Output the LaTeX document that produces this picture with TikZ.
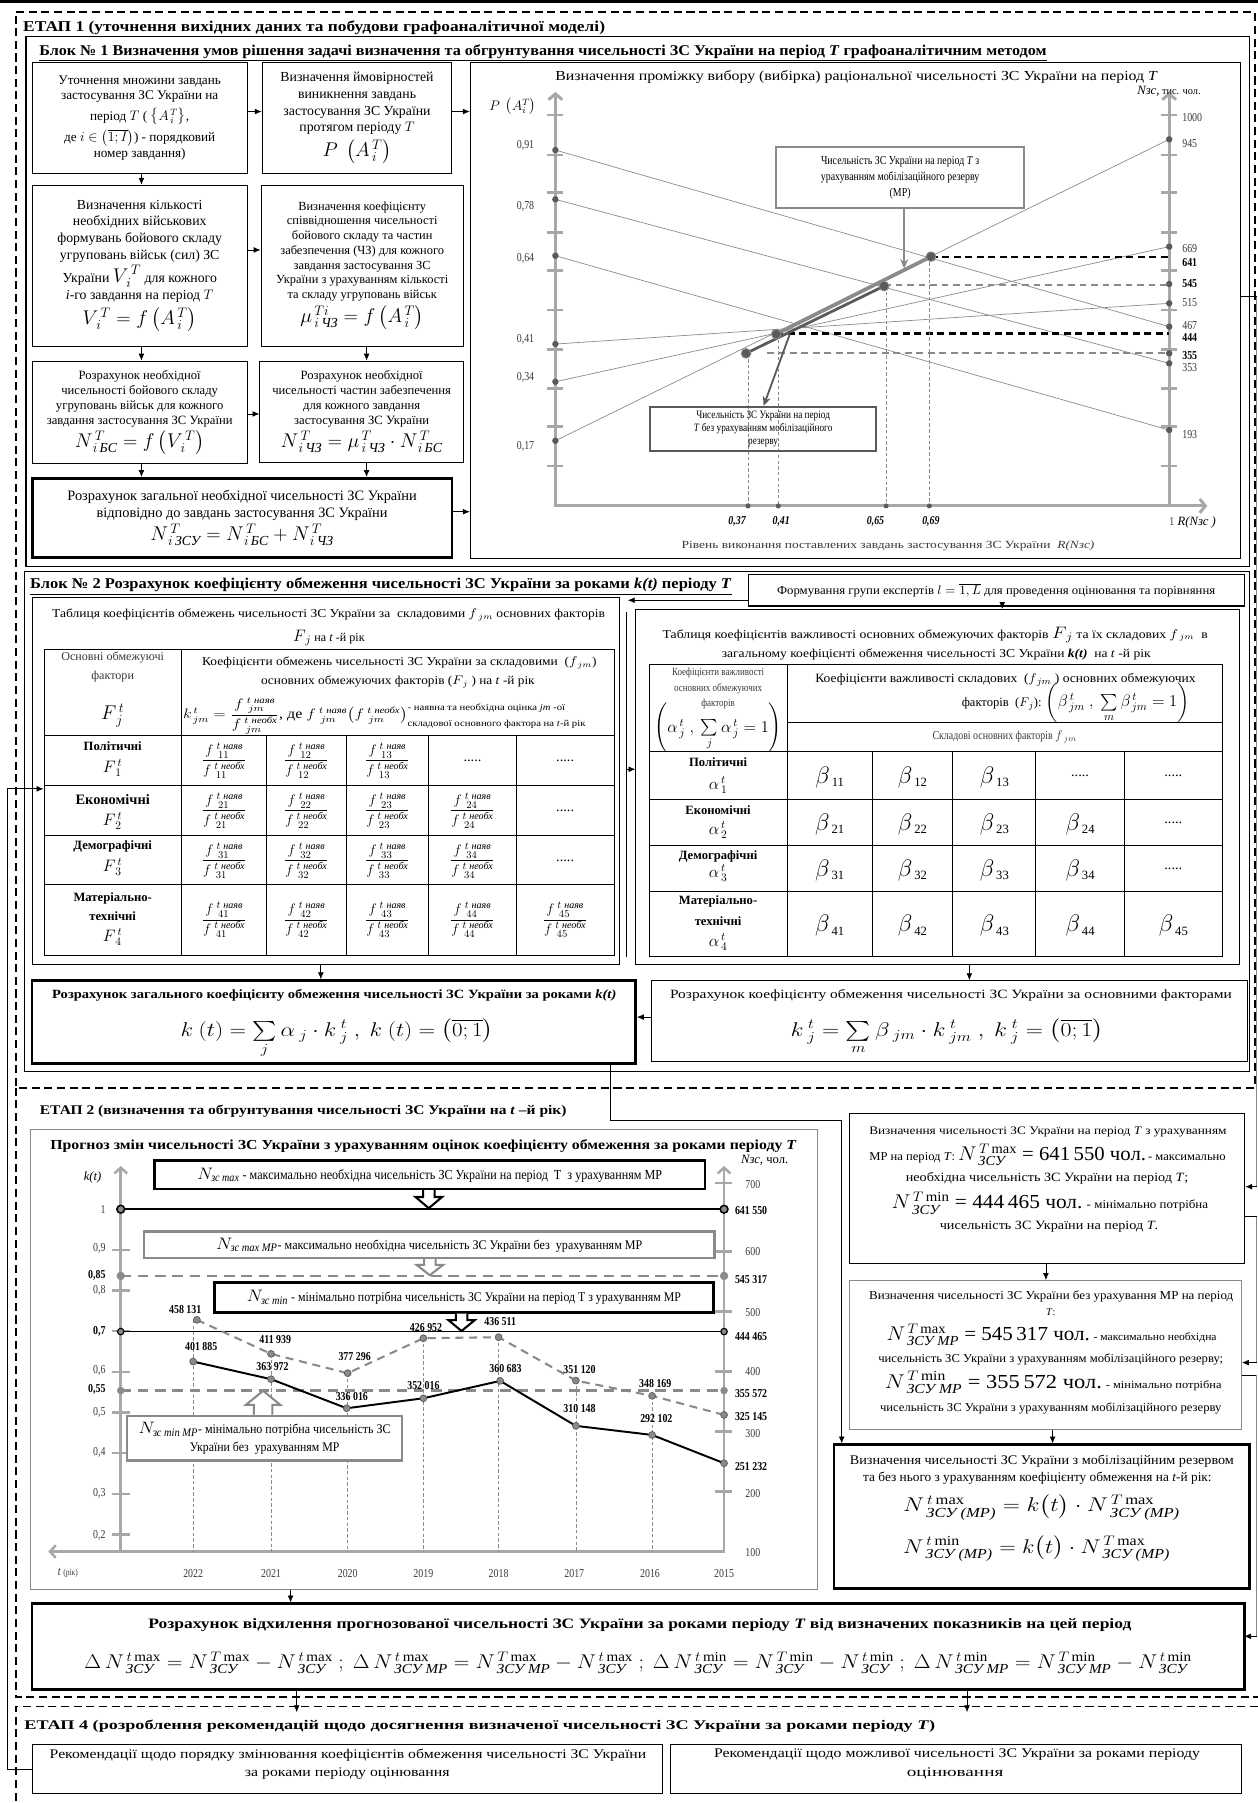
\documentclass[tikz,border=0pt]{standalone}
\usepackage{amsmath}
\usepackage{fontspec}
\setmainfont{Liberation Serif}
\newfontfamily\cond[FakeStretch=0.82]{Liberation Serif}
\usepackage{graphicx}
\usetikzlibrary{arrows.meta,calc}
\definecolor{axg}{HTML}{A8A8A8}
\definecolor{lng}{HTML}{8A8A8A}
\definecolor{dkg}{HTML}{5A5A5A}
\definecolor{txg}{HTML}{3A3A3A}
\newcommand{\fs}[2]{\fontsize{#1}{#2}\selectfont}
\newcommand{\fitto}[2]{\resizebox{#1pt}{\height}{#2}}
\newcommand{\ct}[1]{\text{\itshape #1}}
\newcommand{\ffr}[1]{$\dfrac{f^{\;t\;\ct{наяв}}_{\;\;#1}}{f^{\;t\;\ct{необх}}_{\;\;#1}}$}
\newcommand{\bet}[1]{{\huge$\beta$}\,\raisebox{-3pt}{\fs{11}{12}#1}}
\begin{document}
\begin{tikzpicture}[x=1pt,y=-1pt,
  lbl/.style={inner sep=0pt},
  boxn/.style={draw=black, line width=0.8pt, align=center, inner sep=1pt},
  boxb/.style={draw=black, line width=2.4pt, align=center, inner sep=1pt},
  arr/.style={-{Latex[length=6pt,width=5pt]}, line width=0.6pt},
  etapdash/.style={line width=1.7pt, dash pattern=on 7pt off 4pt},
  axl/.style={draw=axg, line width=2.6pt},
  thinl/.style={draw=lng, line width=0.6pt},
  numl/.style={inner sep=0pt, font=\cond\fs{10.5}{12}, text=txg},
  numb/.style={inner sep=0pt, font=\cond\bfseries\fs{10.5}{12}, text=black},
  rowl/.style={inner sep=0pt, font=\bfseries\fs{11}{13}},
  cell/.style={inner sep=0pt, font=\fs{12.5}{14}},
  ]
\useasboundingbox (0,0) rectangle (1094,1568);
\fill[white] (0,0) rectangle (1094,1568);
\fill[black] (0,0) rectangle (1094,2.5);
% ================= frames
\draw[etapdash] (14,10.5) -- (1091,10.5) -- (1091,946) -- (14,946) -- cycle;
\draw[etapdash,line width=1.3pt] (14,946) -- (14,1476) -- (1094,1476);
\draw[etapdash,line width=1.3pt] (1094,1484) -- (14,1484) -- (14,1568);
\draw[line width=0.9pt] (22.6,32) rectangle (1087,493);
\draw[line width=0.9pt] (21,497) rectangle (1087,932);
% ================= ETAP 1 titles
\node[lbl, anchor=west, font=\bfseries\fs{13}{15}] (t1) at (20,24) {\fitto{506}{ЕТАП 1 (уточнення вихідних даних та побудови графоаналітичної моделі)}};
\node[lbl, anchor=west, font=\bfseries\fs{13}{15}] (t2) at (34,46) {\fitto{876}{\underline{Блок № 1 Визначення умов рішення задачі визначення та обгрунтування чисельності ЗС України на період \textit{T} графоаналітичним методом}}};
% ================= Block 1 boxes
\node[boxn, minimum width=187, minimum height=97, font=\fs{11.5}{13.5}] (A) at (121.5,102.5) {Уточнення множини завдань\\ застосування ЗС України на\\[4pt] період $T$ ( {\large$\left\{A^{\,T}_{\,i}\right\}$},\\[3pt] де {\large$i\in\left(\overline{1;I}\right)$}) - порядковий\\ номер завдання)};
\node[boxn, minimum width=165, minimum height=97, font=\fs{12}{14.5}] (B) at (310.5,102.5) {Визначення ймовірностей\\ виникнення завдань\\ застосування ЗС України\\ протягом періоду $T$\\[3pt] {\LARGE$P\ \left(A^{\,T}_{\,i}\right)$}};
\node[boxn, minimum width=187, minimum height=140, font=\fs{12}{14.5}] (C) at (121.5,231) {Визначення кількості\\ необхідних військових\\ формувань бойового складу\\ угруповань військ (сил) ЗС\\[2pt] України {\LARGE$V^{\,T}_{\,i}$} для кожного\\[1pt] \textit{i}-го завдання на період $T$\\[3pt] {\LARGE$V^{\,T}_{\,i}=f\left(A^{\,T}_{\,i}\right)$}};
\node[boxn, minimum width=176, minimum height=140, font=\fs{10.8}{12.8}] (D) at (315,231) {Визначення коефіцієнту\\ співвідношення чисельності\\ бойового складу та частин\\ забезпечення (ЧЗ) для кожного\\ завдання застосування ЗС\\ України з урахуванням кількості\\ та складу угруповань військ\\[3pt] {\LARGE$\mu^{\,Ti}_{\,i\,\ct{ЧЗ}}=f\left(A^{\,T}_{\,i}\right)$}};
\node[boxn, minimum width=187, minimum height=89, font=\fs{11}{13}] (E) at (121.5,358.5) {Розрахунок необхідної\\ чисельності бойового складу\\ угруповань військ для кожного\\ завдання застосування ЗС України\\[2pt] {\LARGE$N^{\,T}_{\,i\,\ct{БС}}= f\left(V^{\,T}_{\,i}\right)$}};
\node[boxn, minimum width=177, minimum height=88, font=\fs{11}{13}] (F) at (314.5,358) {Розрахунок необхідної\\ чисельності частин забезпечення\\ для кожного завдання\\ застосування ЗС України\\[2pt] {\LARGE$N^{\,T}_{\,i\,\ct{ЧЗ}}=\mu^{\,T}_{\,i\,\ct{ЧЗ}}\cdot N^{\,T}_{\,i\,\ct{БС}}$}};
\node[boxb, minimum width=365, minimum height=69, font=\fs{12.5}{15}] (G) at (210.5,450.5) {Розрахунок загальної необхідної чисельності ЗС України\\ відповідно до завдань застосування ЗС України\\[2pt] {\LARGE$N^{\,T}_{\,i\,\ct{ЗСУ}}=N^{\,T}_{\,i\,\ct{БС}}+N^{\,T}_{\,i\,\ct{ЧЗ}}$}};
\node[draw=black, line width=0.9pt, minimum width=670, minimum height=432, inner sep=0pt] (chart) at (744,270) {};
% Block 1 arrows
\draw[arr] (A.east |- 0,97) -- (B.west |- 0,97);
\draw[arr] (B.east |- 0,97) -- (chart.west |- 0,97);
\draw[arr] (A.south -| 123,0) -- (C.north -| 123,0);
\draw[arr] (C.east |- 0,217.4) -- (D.west |- 0,217.4);
\draw[arr] (C.south -| 123,0) -- (E.north -| 123,0);
\draw[arr] (D.south -| 318.8,0) -- (F.north -| 318.8,0);
\draw[arr] (E.east |- 0,360) -- (F.west |- 0,360);
\draw[arr] (E.south -| 123,0) -- (G.north -| 123,0);
\draw[arr] (F.south -| 318.8,0) -- (G.north -| 318.8,0);
\draw[arr] (G.east |- 0,445) -- (chart.west |- 0,445);
% ================= Chart 1
\node[lbl, font=\fs{12}{13}] (ch1t) at (745,66.7) {\fitto{524}{Визначення проміжку вибору (вибірка) раціональної чисельності ЗС України на період \textit{T}}};
\draw[axl, -{Straight Barb[length=5pt,width=12pt]}] (483,441.3) -- (483,80);
\draw[axl, -{Straight Barb[length=5pt,width=12pt]}] (1016.8,441.3) -- (1016.8,80);
\draw[axl, -{Straight Barb[length=5pt,width=12pt]}] (481.7,440) -- (1050,440);
\foreach \y in {100.0,134.8,167.6,202.4,235.4,269.6,303.8,337.7,371.1,405.3} {
  \draw[axg, line width=2.2pt] (476,\y) -- (490,\y);
  \draw[axg, line width=2.2pt] (1009.8,\y) -- (1023.8,\y);
}
\draw[thinl] (483,130.5) -- (1016.8,284.1);
\draw[thinl] (483,173.4) -- (1016.8,316);
\draw[thinl] (483,222.4) -- (1016.8,374);
\draw[thinl] (483,299.2) -- (1016.8,263.8);
\draw[thinl] (483,332) -- (1016.8,214.5);
\draw[thinl] (483,383.3) -- (1016.8,121.2);
\foreach \y in {130.5,173.4,222.4,299.2,332,383.3} \fill[dkg] (483,\y) circle[radius=2.8pt];
\foreach \y in {121.2,214.5,247,263.8,284.1,307.3,316,374} \fill[dkg] (1016.8,\y) circle[radius=2.8pt];
% dashed level lines
\draw[black, line width=1.8pt, dash pattern=on 6pt off 4pt] (809.6,223.2) -- (1016.8,223.2);
\draw[lng, line width=1.8pt, dash pattern=on 6pt off 4pt] (768.8,247.5) -- (1016.8,247.5);
\draw[black, line width=1.8pt, dash pattern=on 6pt off 4pt] (675.1,290) -- (1016.8,290);
\draw[lng, line width=1.8pt, dash pattern=on 6pt off 4pt] (667,306.8) -- (1016.8,306.8);
\foreach \x/\y in {650.5/307.3,676.8/290.5,770.6/248.8,808.2/223.2} {
  \draw[lng, line width=0.5pt, dash pattern=on 3pt off 2pt] (\x,\y) -- (\x,440);
  \fill[dkg] (\x,440) circle[radius=2.2pt];
}
% thick segments
\draw[lng, line width=3.2pt] (675.1,290.5) -- (809.6,223.2);
\draw[dkg, line width=2.4pt] (648.8,307.3) -- (768.8,248.8);
\foreach \x/\y in {809.6/223.2,768.8/248.8,675.1/290.5,648.8/307.3} \filldraw[fill=dkg, draw=lng, line width=0.8pt] (\x,\y) circle[radius=4.2pt];
% callouts chart 1
\node[draw=lng, line width=1.6pt, minimum width=215.6, minimum height=53, inner sep=0pt, align=center, font=\cond\fs{10.5}{14}] (mpb) at (782.8,154.7) {Чисельність ЗС України на період \textit{T} з\\ урахуванням мобілізаційного резерву\\ (МР)};
\node[draw=dkg, line width=1.6pt, minimum width=196.3, minimum height=38.3, inner sep=0pt, align=center, font=\cond\fs{9.8}{11.2}] (nmpb) at (663.65,372.85) {Чисельність ЗС України на період\\ \textit{T} без урахуванням мобілізаційного\\ резерву};
\coordinate (mpt) at (786.3,233.4);
\coordinate (nmps) at (686.9,290.5);
\draw[lng, line width=1.6pt, -{Stealth[length=8pt,width=7pt]}] (mpb.south -| mpt) -- (mpt);
\draw[dkg, line width=1.6pt, -{Stealth[length=8pt,width=7pt]}] (nmps) -- (nmpb.north -| 664.1,0);
% chart1 labels
\node[lbl, font=\fs{12}{13}] (pa) at (446,92.8) {$P\ \left(A^{T}_{i}\right)$};
\node[lbl, anchor=west, font=\fs{9}{11}] (nzs1) at (989,79.7) {\textit{\fs{11}{12}Nзс,} тис. чол.};
\node[numl] (l091) at (457,126.1) {0,91};
\node[numl] (l078) at (457,179.2) {0,78};
\node[numl] (l064) at (457,224.7) {0,64};
\node[numl] (l041) at (457,295.1) {0,41};
\node[numl] (l034) at (457,328.2) {0,34};
\node[numl] (l017) at (457,388.5) {0,17};
\node[numl, anchor=west] (r1000) at (1028,102.1) {1000};
\node[numl, anchor=west] (r945) at (1028,124.7) {945};
\node[numl, anchor=west] (r669) at (1028,216) {669};
\node[numb, anchor=west] (r641) at (1028,228.2) {641};
\node[numb, anchor=west] (r545) at (1028,247) {545};
\node[numl, anchor=west] (r515) at (1028,263) {515};
\node[numl, anchor=west] (r467) at (1028,282.7) {467};
\node[numb, anchor=west] (r444) at (1028,293.7) {444};
\node[numb, anchor=west] (r355) at (1028,309.6) {355};
\node[numl, anchor=west] (r353) at (1028,319.5) {353};
\node[numl, anchor=west] (r193) at (1028,378.3) {193};
\node[numb, font=\cond\bfseries\itshape\fs{10.5}{12}] (x037) at (641,453.7) {0,37};
\node[numb, font=\cond\bfseries\itshape\fs{10.5}{12}] (x041) at (679.4,453.7) {0,41};
\node[numb, font=\cond\bfseries\itshape\fs{10.5}{12}] (x065) at (761.4,453.7) {0,65};
\node[numb, font=\cond\bfseries\itshape\fs{10.5}{12}] (x069) at (809.6,453.7) {0,69};
\node[numl] (x1) at (1019,453.7) {1};
\node[lbl, anchor=west, font=\itshape\fs{11}{12}] (xr) at (1024,454.5) {R(Nзс )};
\node[lbl, font=\fs{9.5}{11}, text=txg] (xlab) at (772.3,474.6) {\fitto{359}{Рівень виконання поставлених завдань застосування ЗС України \ \textit{R(Nзс)}}};
% ================= Block 2
\node[lbl, anchor=west, font=\bfseries\fs{13}{15}] (t3) at (26,510) {\fitto{610}{\underline{Блок № 2 Розрахунок коефіцієнту обмеження чисельності ЗС України за роками \textit{k(t)} періоду \textit{T}}}};
\node[draw=black, line width=0.9pt, minimum width=431.4, minimum height=27, inner sep=0pt] (exp) at (866.3,513.5) {\fitto{381}{\fs{10.5}{12}Формування групи експертів $l=\overline{1,L}$ для проведення оцінювання та порівняння}};
\node[draw=black, line width=0.8pt, minimum width=511, minimum height=318.5, inner sep=0pt] (lt) at (283.5,679.25) {};
\node[draw=black, line width=0.8pt, minimum width=525, minimum height=309, inner sep=0pt] (rt) at (815.5,684.5) {};
\coordinate (eL) at (546,522);
\draw[arr] (exp.west |- eL) -- (eL);
\coordinate (busT) at (545,532);
\coordinate (busB) at (545,832);
\draw[line width=0.6pt] (busT) -- (busB);
\draw[arr] (busT |- 0,669) -- (rt.west |- 0,669);
\draw[arr] (exp.south -| 871.6,0) -- (rt.north -| 871.6,0);
% left table
\node[lbl, font=\fs{10.5}{12}] (ltt1) at (285.7,535) {\fitto{480.7}{Таблиця коефіцієнтів обмежень чисельності ЗС України за \ складовими $f_{\;jm}$ основних факторів}};
\node[lbl, font=\fs{10.5}{12}] (ltt2) at (286,555) {{\Large$F_{\,j}$} на \textit{t} -й рік};
\node[draw=black, line width=0.9pt, minimum width=495.7, minimum height=266, inner sep=0pt] (ltin) at (286.15,698) {};
\draw[line width=0.9pt] (158,565) -- (158,831);
\foreach \y in {640,683.5,727,769.6} \draw[line width=0.9pt] (38.3,\y) -- (534,\y);
\foreach \x in {232,301,372.7,449} \draw[line width=0.9pt] (\x,640) -- (\x,831);
\node[lbl, align=center, font=\fs{10.5}{16}, text=txg] (lh1) at (98,580) {Основні обмежуючі\\ фактори};
\node[lbl] (lh1f) at (98,622) {\LARGE$F^{\,t}_{\,j}$};
\node[lbl, font=\fs{10.5}{12}] (lh2a) at (347.3,576.3) {\fitto{343}{Коефіцієнти обмежень чисельності ЗС України за складовими \ ($f_{\,jm}$)}};
\node[lbl, font=\fs{10.5}{12}] (lh2b) at (346,593) {\fitto{238}{основних обмежуючих факторів ($F_{\,j}$ ) на \textit{t} -й рік}};
\node[lbl] (lh2c) at (334.2,622.5) {\fitto{350}{\fs{12}{14}$k^{\,t}_{\,jm}=\dfrac{f^{\;t\;\ct{наяв}}_{\;\;jm}}{f^{\;t\;\ct{необх}}_{\;\;jm}}$, де $f^{\;t\;\ct{наяв}}_{\;\;jm}\bigl(f^{\;t\;\ct{необх}}_{\;\;jm}\bigr)$\begin{tabular}{@{}l@{}}\fs{8}{9}- наявна та необхідна оцінка \textit{jm} -ої\\ \fs{8}{9}складової основного фактора на \textit{t}-й рік\end{tabular}}};
\node[rowl] (lr1) at (98,649.3) {Політичні};
\node[lbl] (lr1f) at (98,668.1) {\Large$F^{\,t}_{\,1}$};
\node[rowl, font=\bfseries\fs{12.5}{14}] (lr2) at (98,695) {Економічні};
\node[lbl] (lr2f) at (98,713.6) {\Large$F^{\,t}_{\,2}$};
\node[rowl] (lr3) at (98,735.7) {Демографічні};
\node[lbl] (lr3f) at (98,753.6) {\Large$F^{\,t}_{\,3}$};
\node[rowl] (lr4a) at (98,781.2) {Матеріально-};
\node[rowl] (lr4b) at (98,797.1) {технічні};
\node[lbl] (lr4f) at (98,814.5) {\Large$F^{\,t}_{\,4}$};
\node[cell] (c11) at (195,661.8) {\ffr{11}};
\node[cell] (c12) at (266.5,661.8) {\ffr{12}};
\node[cell] (c13) at (336.9,661.8) {\ffr{13}};
\node[cell] (c14) at (410.9,661.8) {.....};
\node[cell] (c15) at (491.5,661.8) {.....};
\node[cell] (c21) at (195,705.3) {\ffr{21}};
\node[cell] (c22) at (266.5,705.3) {\ffr{22}};
\node[cell] (c23) at (336.9,705.3) {\ffr{23}};
\node[cell] (c24) at (410.9,705.3) {\ffr{24}};
\node[cell] (c25) at (491.5,705.3) {.....};
\node[cell] (c31) at (195,748.3) {\ffr{31}};
\node[cell] (c32) at (266.5,748.3) {\ffr{32}};
\node[cell] (c33) at (336.9,748.3) {\ffr{33}};
\node[cell] (c34) at (410.9,748.3) {\ffr{34}};
\node[cell] (c35) at (491.5,748.3) {.....};
\node[cell] (c41) at (195,800.3) {\ffr{41}};
\node[cell] (c42) at (266.5,800.3) {\ffr{42}};
\node[cell] (c43) at (336.9,800.3) {\ffr{43}};
\node[cell] (c44) at (410.9,800.3) {\ffr{44}};
\node[cell] (c45) at (491.5,800.3) {\ffr{45}};
% right table
\node[lbl, font=\fs{10.5}{12}] (rtt1) at (813.3,552) {\fitto{474}{Таблиця коефіцієнтів важливості основних обмежуючих факторів {\Large$F_{\,j}$} та їх складових $f_{\;jm}$ \ в}};
\node[lbl, font=\fs{10.5}{12}] (rtt2) at (814.2,569.6) {\fitto{373}{загальному коефіцієнті обмеження чисельності ЗС України \textbf{\textit{k(t)}} \ на \textit{t} -й рік}};
\node[draw=black, line width=0.9pt, minimum width=498.4, minimum height=253.7, inner sep=0pt] (rtin) at (813.8,705.15) {};
\draw[line width=0.9pt] (684.5,578.3) -- (684.5,832);
\draw[line width=0.9pt] (684.5,628.4) -- (1063,628.4);
\foreach \y in {653.6,695.6,735.7,775.4} \draw[line width=0.9pt] (564.6,\y) -- (1063,\y);
\foreach \x in {758.4,828.6,900.8,977.8} \draw[line width=0.9pt] (\x,653.6) -- (\x,832);
\node[lbl, align=center, font=\cond\fs{9.5}{13.5}, text=txg] (rh1) at (624.5,599) {Коефіцієнти важливості\\ основних обмежуючих\\ факторів};
\node[lbl] (rh1f) at (624.5,633) {\fitto{111}{\Large$\left(\alpha^{\,t}_{\,j}\ ,\ \sum\limits_{j}\alpha^{\,t}_{\,j}=1\right)$}};
\node[lbl, font=\fs{11}{12}] (rh2a) at (874.4,591.3) {\fitto{330.7}{Коефіцієнти важливості складових \ ($f_{\,jm}$ ) основних обмежуючих}};
\node[lbl, font=\fs{11}{12}] (rh2b) at (935.4,611) {\fitto{198}{факторів \ ($F_{\,j}$): {\Large$\left(\beta^{\,t}_{\,jm}\ ,\ \sum\limits_{m}\beta^{\,t}_{\,jm}=1\right)$}}};
\node[lbl, font=\cond\fs{10.5}{12}, text=txg] (rh3) at (873.8,641) {Складові основних факторів $f_{\;jm}$};
\node[rowl] (rr1) at (624.5,663.2) {Політичні};
\node[lbl] (rr1f) at (624.5,682.6) {\Large$\alpha^{\,t}_{\,1}$};
\node[rowl] (rr2) at (624.5,705) {Економічні};
\node[lbl] (rr2f) at (624.5,721.7) {\Large$\alpha^{\,t}_{\,2}$};
\node[rowl] (rr3) at (624.5,745) {Демографічні};
\node[lbl] (rr3f) at (624.5,759.4) {\Large$\alpha^{\,t}_{\,3}$};
\node[rowl] (rr4a) at (624.5,784) {Матеріально-};
\node[rowl] (rr4b) at (624.5,801.5) {технічні};
\node[lbl] (rr4f) at (624.5,818.8) {\Large$\alpha^{\,t}_{\,4}$};
\node[lbl] (b11) at (721.5,676) {\bet{11}};
\node[lbl] (b12) at (793.5,676) {\bet{12}};
\node[lbl] (b13) at (864.7,676) {\bet{13}};
\node[cell] (b14) at (939.3,674.6) {.....};
\node[cell] (b15) at (1020.4,674.6) {.....};
\node[lbl] (b21) at (721.5,717) {\bet{21}};
\node[lbl] (b22) at (793.5,717) {\bet{22}};
\node[lbl] (b23) at (864.7,717) {\bet{23}};
\node[lbl] (b24) at (939.3,717) {\bet{24}};
\node[cell] (b25) at (1020.4,715.7) {.....};
\node[lbl] (b31) at (721.5,757) {\bet{31}};
\node[lbl] (b32) at (793.5,757) {\bet{32}};
\node[lbl] (b33) at (864.7,757) {\bet{33}};
\node[lbl] (b34) at (939.3,757) {\bet{34}};
\node[cell] (b35) at (1020.4,755.6) {.....};
\node[lbl] (b41) at (721.5,805) {\bet{41}};
\node[lbl] (b42) at (793.5,805) {\bet{42}};
\node[lbl] (b43) at (864.7,805) {\bet{43}};
\node[lbl] (b44) at (939.3,805) {\bet{44}};
\node[lbl] (b45) at (1020.4,805) {\bet{45}};
% bottom of block 2
\node[boxb, minimum width=524.9, minimum height=71.8] (kt) at (290.25,888.7) {};
\node[boxn, minimum width=518.3, minimum height=70.2] (kj) at (825.85,887.9) {};
\node[lbl, font=\bfseries\fs{11}{13}] (ktt) at (290.7,865.2) {\fitto{490.6}{Розрахунок загального коефіцієнту обмеження чисельності ЗС України за роками \textit{k(t)}}};
\node[lbl, font=\fs{11}{13}] (kjt) at (827,865.2) {\fitto{488.6}{Розрахунок коефіцієнту обмеження чисельності ЗС України за основними факторами}};
\node[lbl, anchor=base] (ktf) at (293,901) {\fitto{272}{\LARGE$k\ (t)=\sum\limits_{j}\alpha_{\;j}\cdot k^{\;t}_{\;j}\ ,\ k\ (t)=\left(\overline{0;1}\right)$}};
\node[lbl, anchor=base] (kjf) at (823.5,901) {\fitto{272}{\LARGE$k^{\;t}_{\;j}=\sum\limits_{m}\beta_{\;jm}\cdot k^{\;t}_{\;jm}\ ,\ k^{\;t}_{\;j}=\left(\overline{0;1}\right)$}};
\draw[arr] (lt.south -| 279,0) -- (kt.north -| 279,0);
\draw[arr] (rt.south -| 843,0) -- (kj.north -| 843,0);
\draw[arr] (kj.west |- 0,884.5) -- (kt.east |- 0,884.5);
% ================= ETAP 2
\node[lbl, anchor=west, font=\bfseries\fs{11.5}{13}] (t4) at (34.5,966.7) {\fitto{458}{ЕТАП 2 (визначення та обгрунтування чисельності ЗС України на \textit{t} –й рік)}};
\node[draw=lng, line width=1pt, minimum width=684.3, minimum height=400.6, inner sep=0pt] (ch2) at (368.85,1182.3) {};
\node[lbl, font=\bfseries\fs{12}{13}] (ch2t) at (368.25,997) {\fitto{649}{Прогноз змін чисельності ЗС України з урахуванням оцінок коефіцієнту обмеження за роками періоду \textit{T}}};
\node[lbl, font=\itshape\fs{11}{12}] (kt2) at (80.5,1023.8) {k(t)};
\node[lbl, font=\fs{11}{12}] (nzs2) at (665,1008.7) {\textit{Nзс,} чол.};
\draw[axg, line width=2.2pt, -{Straight Barb[length=5pt,width=11pt]}] (105,1350.4) -- (105,1014);
\draw[axg, line width=2.2pt, -{Straight Barb[length=5pt,width=11pt]}] (629.7,1350.4) -- (629.7,1014);
\draw[axg, line width=2.2pt, -{Straight Barb[length=5pt,width=11pt]}] (630.8,1349.3) -- (42,1349.3);
\foreach \y in {1087,1122.3,1157.7,1193,1228.4,1263.7,1299,1334.4} \draw[axg, line width=2pt] (97,\y) -- (113,\y);
\foreach \y in {1029,1088.4,1140.6,1192.8,1245,1297.1} \draw[axg, line width=2pt] (622,\y) -- (637,\y);
% year verticals
\foreach \x/\y in {168/1147.8,235.7/1177.4,302.4/1194.2,368.2/1163.8,433.6/1162.9,500.8/1200.6,567.1/1213.9} \draw[lng, line width=0.5pt, dash pattern=on 3pt off 2pt] (\x,\y) -- (\x,1349.3);
% level lines
\draw[black, line width=2pt] (105,1051.6) -- (629.7,1051.6);
\draw[lng, line width=2.2pt, dash pattern=on 9pt off 6pt] (105,1109.6) -- (629.7,1109.6);
\draw[black, line width=1.6pt] (105,1158) -- (629.7,1158);
\draw[lng, line width=2.2pt, dash pattern=on 9pt off 6pt] (105,1209.3) -- (629.7,1209.3);
\foreach \x in {105,629.7} {
  \filldraw[fill=lng, draw=black, line width=1.3pt] (\x,1051.6) circle[radius=3.4pt];
  \filldraw[fill=lng, draw=lng] (\x,1109.6) circle[radius=3.4pt];
  \filldraw[fill=lng, draw=black, line width=1pt] (\x,1158) circle[radius=2.8pt];
  \filldraw[fill=lng, draw=lng] (\x,1209.3) circle[radius=3pt];
}
% series
\draw[lng, line width=1.8pt, dash pattern=on 7pt off 5pt] (171.2,1147.8) -- (235.7,1177.4) -- (302.4,1194.2) -- (368.2,1163.8) -- (433.6,1162.9) -- (500.8,1200.6) -- (567.1,1213.9) -- (629.7,1230.5);
\draw[black, line width=1.7pt] (168,1184.1) -- (235.7,1199.4) -- (301.5,1224.7) -- (368.2,1216) -- (435,1200.9) -- (500.8,1240) -- (567.1,1247.9) -- (629.7,1272.5);
\foreach \x/\y in {171.2/1147.8,235.7/1177.4,302.4/1194.2,368.2/1163.8,433.6/1162.9,500.8/1200.6,567.1/1213.9,629.7/1230.5,168/1184.1,235.7/1199.4,301.5/1224.7,368.2/1216,435/1200.9,500.8/1240,567.1/1247.9,629.7/1272.5} \filldraw[fill=lng, draw=dkg, line width=0.6pt] (\x,\y) circle[radius=3pt];
% labels chart 2
\node[numl, anchor=east] (k1) at (92,1051.6) {1};
\node[numl, anchor=east] (k09) at (92,1085.5) {0,9};
\node[numb, anchor=east] (k085) at (92,1109.6) {0,85};
\node[numl, anchor=east] (k08) at (92,1122.6) {0,8};
\node[numb, anchor=east] (k07) at (92,1158) {0,7};
\node[numl, anchor=east] (k06) at (92,1192.2) {0,6};
\node[numb, anchor=east] (k055) at (92,1208.7) {0,55};
\node[numl, anchor=east] (k05) at (92,1228.4) {0,5};
\node[numl, anchor=east] (k04) at (92,1263.2) {0,4};
\node[numl, anchor=east] (k03) at (92,1298.6) {0,3};
\node[numl, anchor=east] (k02) at (92,1335.7) {0,2};
\node[numl, anchor=west] (n700) at (648,1030.4) {700};
\node[numl, anchor=west] (n600) at (648,1088.4) {600};
\node[numl, anchor=west] (n500) at (648,1141.5) {500};
\node[numl, anchor=west] (n400) at (648,1192.8) {400};
\node[numl, anchor=west] (n300) at (648,1246.4) {300};
\node[numl, anchor=west] (n200) at (648,1298.6) {200};
\node[numl, anchor=west] (n100) at (648,1350.2) {100};
\node[numb, anchor=west] (v1) at (639,1052.7) {641 550};
\node[numb, anchor=west] (v2) at (639,1112.5) {545 317};
\node[numb, anchor=west] (v3) at (639,1162.3) {444 465};
\node[numb, anchor=west] (v4) at (639,1212.2) {355 572};
\node[numb, anchor=west] (v5) at (639,1231.9) {325 145};
\node[numb, anchor=west] (v6) at (639,1275.4) {251 232};
\node[numb] (s1) at (175,1171) {401 885};
\node[numb] (s2) at (237,1188.4) {363 972};
\node[numb] (s3) at (306,1214.5) {336 016};
\node[numb] (s4) at (368.2,1205.3) {352 016};
\node[numb] (s5) at (439.6,1189.9) {360 683};
\node[numb] (s6) at (504,1224.7) {310 148};
\node[numb] (s7) at (570.8,1233.4) {292 102};
\node[numb] (g1) at (161.1,1139.1) {458 131};
\node[numb] (g2) at (239.4,1165.2) {411 939};
\node[numb] (g3) at (308.4,1179.7) {377 296};
\node[numb] (g4) at (370.5,1154.2) {426 952};
\node[numb] (g5) at (435,1149.3) {436 511};
\node[numb] (g6) at (504,1190.7) {351 120};
\node[numb] (g7) at (569.9,1203) {348 169};
\foreach \x/\t [count=\i] in {168/2022,235.7/2021,302.4/2020,368.2/2019,433.6/2018,499.4/2017,565.3/2016,629.7/2015} \node[numl] (yr\i) at (\x,1368.2) {\t};
\node[numl] (tl) at (59,1368.2) {\textit{\fs{11}{12}t} {\fs{8}{9}(рік)}};
% callout boxes chart 2
\node[draw=black, line width=2.2pt, fill=white, minimum width=478.7, minimum height=24.9, inner sep=0pt, font=\cond\fs{12}{13}] (cb1) at (373.75,1021.75) {\fitto{404}{{\Large$N_{\ct{зс max}}$} - максимально необхідна чисельність ЗС України на період \ T \ з урахуванням МР}};
\node[draw=lng, line width=2.2pt, fill=white, minimum width=496.2, minimum height=23.2, inner sep=0pt, font=\cond\fs{11.5}{13}] (cb2) at (373.3,1082.6) {\fitto{370.6}{{\Large$N_{\ct{зс max МР}}$}- максимально необхідна чисельність ЗС України без \ урахуванням МР}};
\node[draw=black, line width=2.2pt, fill=white, minimum width=434.1, minimum height=26.1, inner sep=0pt, font=\cond\fs{11.5}{13}] (cb3) at (403.45,1128.45) {\fitto{377.5}{{\Large$N_{\ct{зс min}}$} - мінімально потрібна чисельність ЗС України на період T з урахуванням МР}};
\node[draw=lng, line width=2.2pt, fill=white, minimum width=239.3, minimum height=38.9, inner sep=0pt, align=center, font=\cond\fs{11.5}{15}] (cb4) at (230.15,1250.75) {\fitto{219}{{\Large$N_{\ct{зс min МР}}$}- мінімально потрібна чисельність ЗС}\\ \fitto{130}{України без \ урахуванням МР}};
\filldraw[fill=white, draw=black, line width=1.8pt] (367.9,1035) -- (367.9,1041) -- (361.4,1041) -- (372.9,1050.7) -- (384.4,1041) -- (377.9,1041) -- (377.9,1035);
\filldraw[fill=white, draw=lng, line width=1.8pt] (368.8,1095) -- (368.8,1100) -- (362.3,1100) -- (373.8,1109) -- (385.3,1100) -- (378.8,1100) -- (378.8,1095);
\filldraw[fill=white, draw=black, line width=1.8pt] (396.4,1142.5) -- (396.4,1148) -- (389.9,1148) -- (401.4,1157.5) -- (412.9,1148) -- (406.4,1148) -- (406.4,1142.5);
\filldraw[fill=white, draw=lng, line width=1.8pt] (220.8,1230.3) -- (220.8,1221.8) -- (213.8,1221.8) -- (228.8,1209.5) -- (243.8,1221.8) -- (236.8,1221.8) -- (236.8,1230.3);
% right boxes ETAP 2
\node[boxn, minimum width=343.5, minimum height=129.9] (R1) at (910.85,1033.65) {};
\node[draw=lng, line width=0.8pt, minimum width=340.6, minimum height=129.4, inner sep=0pt] (R2) at (909.4,1178.3) {};
\node[boxb, minimum width=361.2, minimum height=124.7] (R3) at (905.8,1318.85) {};
\node[lbl, font=\fs{10}{11}] (r1a) at (911.3,984) {\fitto{310.7}{Визначення чисельності ЗС України на період \textit{T} з урахуванням}};
\node[lbl, font=\fs{10.5}{11}] (r1b) at (911,1004.3) {\fitto{310}{МР на період \textit{T}: {\LARGE$N^{\,T\,\mathrm{max}}_{\;\ct{ЗСУ}}$ = 641\,550 чол.}\,- максимально}};
\node[lbl, font=\fs{11}{11}] (r1c) at (910.6,1024.6) {\fitto{245.6}{необхідна чисельність ЗС України на період \textit{T};}};
\node[lbl, font=\fs{10.5}{11}] (r1d) at (913,1046.4) {\fitto{275.4}{{\LARGE$N^{\,T\,\mathrm{min}}_{\;\ct{ЗСУ}}$ = 444\,465 чол.} - мінімально потрібна}};
\node[lbl, font=\fs{11}{11}] (r1e) at (912.3,1066.7) {\fitto{190}{чисельність ЗС України на період \textit{T}.}};
\node[lbl, font=\fs{10.5}{11}] (r2a) at (914.2,1127.5) {\fitto{316.6}{Визначення чисельності ЗС України без урахування МР на період}};
\node[lbl, font=\fs{9}{11}] (r2b) at (913.8,1141.5) {\textit{T}:};
\node[lbl, font=\fs{9.5}{11}] (r2c) at (914.5,1160.9) {\fitto{287}{{\LARGE$N^{\,T\,\mathrm{max}}_{\;\ct{ЗСУ МР}}$ = 545\,317 чол.} - максимально необхідна}};
\node[lbl, font=\fs{10.5}{11}] (r2d) at (913.8,1182) {\fitto{300}{чисельність ЗС України з урахуванням мобілізаційного резерву;}};
\node[lbl, font=\fs{9.5}{11}] (r2e) at (915.9,1202.3) {\fitto{292.8}{{\LARGE$N^{\,T\,\mathrm{min}}_{\;\ct{ЗСУ МР}}$ = 355\,572 чол.} - мінімально потрібна}};
\node[lbl, font=\fs{10.5}{11}] (r2f) at (913.8,1224.6) {\fitto{297}{чисельність ЗС України з урахуванням мобілізаційного резерву}};
\node[lbl, font=\fs{11.5}{12}] (r3a) at (906.1,1271) {\fitto{334}{Визначення чисельності ЗС України з мобілізаційним резервом}};
\node[lbl, font=\fs{11.5}{12}] (r3b) at (902.2,1285.5) {\fitto{303}{та без нього з урахуванням коефіцієнту обмеження на \textit{t}-й рік:}};
\node[lbl] (r3c) at (905.8,1311) {\fitto{240.6}{\LARGE$N^{\,t\,\mathrm{max}}_{\;\ct{ЗСУ (МР)}}=k\bigl(t\bigr)\cdot N^{\,T\,\mathrm{max}}_{\;\ct{ЗСУ (МР)}}$}};
\node[lbl] (r3d) at (901.5,1347) {\fitto{232}{\LARGE$N^{\,t\,\mathrm{min}}_{\;\ct{ЗСУ (МР)}}=k\bigl(t\bigr)\cdot N^{\,T\,\mathrm{max}}_{\;\ct{ЗСУ (МР)}}$}};
\draw[arr] (R1.south -| 909.6,0) -- (R2.north -| 909.6,0);
\draw[arr] (R2.south -| 915.4,0) -- (R3.north -| 915.4,0);
% connector from k(t) box to R3
\coordinate (kc) at (732,974);
\draw[arr] (kt.south -| 531,0) |- (kc) -- (kc |- R3.north);
% right bus
\coordinate (rb1) at (1093,258);
\coordinate (rb2) at (1093,1032);
\coordinate (rb3) at (1093,1058);
\coordinate (rb4) at (1093,1185);
\coordinate (rb5) at (1093,1196);
\coordinate (rb6) at (1093,1423);
\draw[line width=0.6pt] (chart.east |- rb1) -- (rb1);
\draw[lng, line width=0.6pt] (rb1) -- (rb2);
\draw[arr] (rb2) -- (rb2 -| R1.east);
\draw[line width=0.6pt] (R1.east |- rb3) -- (rb3);
\draw[lng, line width=0.6pt] (rb3) -- (rb4);
\draw[arr] (rb4) -- (rb4 -| R2.east);
\draw[line width=0.6pt] (R2.east |- rb5) -- (rb5);
\draw[lng, line width=0.6pt] (rb5) -- (rb6);
\draw[arr] (rb6) -- (rb6 -| 1082,0);
% deviation box
\node[boxb, minimum width=1054.1, minimum height=74.2] (dev) at (554.95,1431.9) {};
\node[lbl, font=\bfseries\fs{12.5}{14}] (devt) at (556.5,1413) {\fitto{855}{Розрахунок відхилення прогнозованої чисельності ЗС України за роками періоду \textit{T} від визначених показників на цей період}};
\node[lbl] (devf) at (554.9,1446) {\fitto{963}{\LARGE$\Delta\,N^{\,t\,\mathrm{max}}_{\;\ct{ЗСУ}}=N^{\,T\,\mathrm{max}}_{\;\ct{ЗСУ}}-N^{\,t\,\mathrm{max}}_{\;\ct{ЗСУ}}\ ;\ \Delta\,N^{\,t\,\mathrm{max}}_{\;\ct{ЗСУ МР}}=N^{\,T\,\mathrm{max}}_{\;\ct{ЗСУ МР}}-N^{\,t\,\mathrm{max}}_{\;\ct{ЗСУ}}\ ;\ \Delta\,N^{\,t\,\mathrm{min}}_{\;\ct{ЗСУ}}=N^{\,T\,\mathrm{min}}_{\;\ct{ЗСУ}}-N^{\,t\,\mathrm{min}}_{\;\ct{ЗСУ}}\ ;\ \Delta\,N^{\,t\,\mathrm{min}}_{\;\ct{ЗСУ МР}}=N^{\,T\,\mathrm{min}}_{\;\ct{ЗСУ МР}}-N^{\,t\,\mathrm{min}}_{\;\ct{ЗСУ}}$}};
\draw[arr] (ch2.south -| 252.7,0) -- (dev.north -| 252.7,0);
\coordinate (d1) at (258,1489);
\coordinate (d2) at (841,1489);
\draw[arr] (dev.south -| d1) -- (d1);
\draw[arr] (dev.south -| d2) -- (d2);
% ================= ETAP 4
\node[lbl, anchor=west, font=\bfseries\fs{11.5}{13}] (t5) at (21,1501.5) {\fitto{792}{ЕТАП 4 (розроблення рекомендацій щодо досягнення визначеної чисельності ЗС України за роками періоду \textit{T})}};
\node[boxn, minimum width=548, minimum height=43] (rec1) at (302,1538.5) {};
\node[boxn, minimum width=497, minimum height=43] (rec2) at (831.5,1538.5) {};
\node[lbl, font=\fs{11.5}{12}] (rec1a) at (302.6,1526) {\fitto{518.7}{Рекомендації щодо порядку змінювання коефіцієнтів обмеження чисельності ЗС України}};
\node[lbl, font=\fs{11.5}{12}] (rec1b) at (302,1542) {\fitto{178}{за роками періоду оцінювання}};
\node[lbl, font=\fs{11.5}{12}] (rec2a) at (832.3,1526) {\fitto{422.5}{Рекомендації щодо можливої чисельності ЗС України за роками періоду}};
\node[lbl, font=\fs{11.5}{12}] (rec2b) at (830.6,1542) {\fitto{84}{оцінювання}};
% feedback loop
\coordinate (fb) at (6,686);
\draw[arr] (rec1.west) -| (fb) -- (fb -| ltin.west);
\end{tikzpicture}
\end{document}
